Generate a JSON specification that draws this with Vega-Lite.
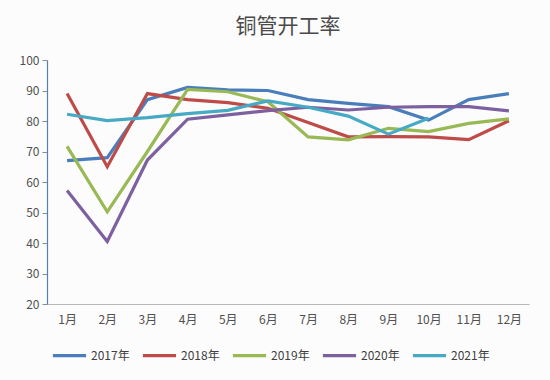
{
  "$schema": "https://vega.github.io/schema/vega-lite/v6.json",
  "width": 482,
  "height": 244,
  "autosize": {"type": "none"},
  "padding": {"left": 47, "top": 60, "right": 21, "bottom": 76},
  "background": "#fcfcfc",
  "title": {"text": "铜管开工率", "fontSize": 21, "font": "Noto Sans CJK SC", "fontWeight": "normal", "color": "#4a4a4a", "offset": 17, "anchor": "middle"},
  "config": {"view": {"stroke": null}, "font": "Noto Sans CJK SC"},
  "data": {"values": [
    {"m": "1月", "y": "2017年", "v": 67}, {"m": "2月", "y": "2017年", "v": 68}, {"m": "3月", "y": "2017年", "v": 87}, {"m": "4月", "y": "2017年", "v": 91}, {"m": "5月", "y": "2017年", "v": 90.2}, {"m": "6月", "y": "2017年", "v": 90}, {"m": "7月", "y": "2017年", "v": 87}, {"m": "8月", "y": "2017年", "v": 85.8}, {"m": "9月", "y": "2017年", "v": 84.7}, {"m": "10月", "y": "2017年", "v": 80.3}, {"m": "11月", "y": "2017年", "v": 87}, {"m": "12月", "y": "2017年", "v": 89},
    {"m": "1月", "y": "2018年", "v": 89}, {"m": "2月", "y": "2018年", "v": 65}, {"m": "3月", "y": "2018年", "v": 89}, {"m": "4月", "y": "2018年", "v": 87}, {"m": "5月", "y": "2018年", "v": 86}, {"m": "6月", "y": "2018年", "v": 84.2}, {"m": "7月", "y": "2018年", "v": 79.5}, {"m": "8月", "y": "2018年", "v": 74.8}, {"m": "9月", "y": "2018年", "v": 74.9}, {"m": "10月", "y": "2018年", "v": 74.8}, {"m": "11月", "y": "2018年", "v": 73.9}, {"m": "12月", "y": "2018年", "v": 80.1},
    {"m": "1月", "y": "2019年", "v": 71.7}, {"m": "2月", "y": "2019年", "v": 50.2}, {"m": "3月", "y": "2019年", "v": 70}, {"m": "4月", "y": "2019年", "v": 90.4}, {"m": "5月", "y": "2019年", "v": 89.6}, {"m": "6月", "y": "2019年", "v": 86.3}, {"m": "7月", "y": "2019年", "v": 74.8}, {"m": "8月", "y": "2019年", "v": 73.8}, {"m": "9月", "y": "2019年", "v": 77.6}, {"m": "10月", "y": "2019年", "v": 76.5}, {"m": "11月", "y": "2019年", "v": 79.2}, {"m": "12月", "y": "2019年", "v": 80.7},
    {"m": "1月", "y": "2020年", "v": 57.2}, {"m": "2月", "y": "2020年", "v": 40.5}, {"m": "3月", "y": "2020年", "v": 67.2}, {"m": "4月", "y": "2020年", "v": 80.6}, {"m": "5月", "y": "2020年", "v": 82}, {"m": "6月", "y": "2020年", "v": 83.4}, {"m": "7月", "y": "2020年", "v": 84.5}, {"m": "8月", "y": "2020年", "v": 83.6}, {"m": "9月", "y": "2020年", "v": 84.5}, {"m": "10月", "y": "2020年", "v": 84.7}, {"m": "11月", "y": "2020年", "v": 84.7}, {"m": "12月", "y": "2020年", "v": 83.3},
    {"m": "1月", "y": "2021年", "v": 82.2}, {"m": "2月", "y": "2021年", "v": 80.1}, {"m": "3月", "y": "2021年", "v": 81.1}, {"m": "4月", "y": "2021年", "v": 82.4}, {"m": "5月", "y": "2021年", "v": 83.5}, {"m": "6月", "y": "2021年", "v": 86.6}, {"m": "7月", "y": "2021年", "v": 84.5}, {"m": "8月", "y": "2021年", "v": 81.6}, {"m": "9月", "y": "2021年", "v": 75.7}, {"m": "10月", "y": "2021年", "v": 80.9}
  ]},
  "mark": {"type": "line", "strokeWidth": 3.2},
  "encoding": {
    "x": {
      "field": "m", "type": "ordinal",
      "sort": ["1月","2月","3月","4月","5月","6月","7月","8月","9月","10月","11月","12月"],
      "scale": {"type": "point", "padding": 0.5},
      "axis": {"title": null, "labelAngle": 0, "labelColor": "#505050", "labelFontSize": 12, "labelPadding": 10, "ticks": false, "domainColor": "#b8b8b8", "domainWidth": 1, "grid": false}
    },
    "y": {
      "field": "v", "type": "quantitative",
      "scale": {"domain": [20, 100], "nice": false, "zero": false},
      "axis": {"title": null, "values": [20,30,40,50,60,70,80,90,100], "labelColor": "#505050", "labelFontSize": 12, "tickColor": "#8c8c8c", "tickSize": 5, "labelPadding": 3, "domainColor": "#4F81BD", "domainWidth": 1.2, "grid": false}
    },
    "color": {
      "field": "y", "type": "nominal",
      "scale": {"domain": ["2017年","2018年","2019年","2020年","2021年"], "range": ["#4A7EBB","#BE4B48","#98B954","#7D60A0","#46AAC5"]},
      "legend": {"title": null, "orient": "none", "legendX": 4, "legendY": 277, "direction": "horizontal", "symbolType": "stroke", "symbolSize": 1100, "symbolStrokeWidth": 3.2, "labelFontSize": 12, "labelColor": "#404040", "columnPadding": 6, "labelOffset": 3}
    }
  }
}
